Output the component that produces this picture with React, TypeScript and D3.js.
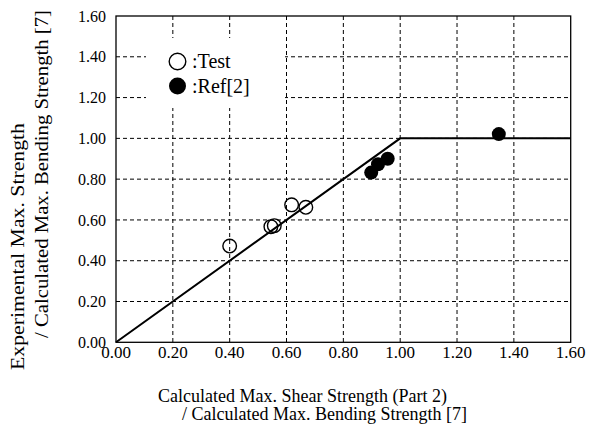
import React from "react";
import * as d3 from "d3";

const xTicks = [0, 0.2, 0.4, 0.6, 0.8, 1.0, 1.2, 1.4, 1.6];
const yTicks = [0, 0.2, 0.4, 0.6, 0.8, 1.0, 1.2, 1.4, 1.6];
const testX = [0.4, 0.545, 0.557, 0.618, 0.668];
const testY = [0.472, 0.567, 0.572, 0.674, 0.662];
const refX = [0.898, 0.922, 0.956, 1.347];
const refY = [0.832, 0.873, 0.9, 1.021];
const lineX = [0, 1.0, 1.6];
const lineY = [0, 1.0, 1.0];
const legendLabels = [":Test", ":Ref[2]"];

const W = 596;
const H = 430;
const L = 116, R = 570.7, T = 16, B = 342.3;
const FONT = "Liberation Serif, Times New Roman, serif";
const ts = { fontFamily: FONT };

export default function App() {
  const x = d3.scaleLinear().domain([0, 1.6]).range([L, R]);
  const y = d3.scaleLinear().domain([0, 1.6]).range([B, T]);
  const line = d3
    .line<number>()
    .x((_, i) => x(lineX[i]))
    .y((d) => y(d));
  const testPts = testX.map((v, i) => [v, testY[i]]);
  const refPts = refX.map((v, i) => [v, refY[i]]);

  return (
    <svg
      width={W}
      height={H}
      style={{ position: "absolute", left: 0, top: 0, background: "#fff", fontFamily: FONT }}
    >
      <rect x={0} y={0} width={W} height={H} fill="#fff" />
      {xTicks.slice(1, -1).map((t) => (
        <line
          key={"gx" + t}
          x1={x(t)}
          x2={x(t)}
          y1={T}
          y2={B}
          stroke="#000"
          strokeWidth={1}
          strokeDasharray="4,3"
        />
      ))}
      {yTicks.slice(1, -1).map((t) => (
        <line
          key={"gy" + t}
          x1={L}
          x2={R}
          y1={y(t)}
          y2={y(t)}
          stroke="#000"
          strokeWidth={1}
          strokeDasharray="4,3"
        />
      ))}
      <rect x={146} y={38} width={139} height={70} fill="#fff" />
      <rect x={L} y={T} width={R - L} height={B - T} fill="none" stroke="#000" strokeWidth={1.3} />
      <path d={line(lineY) || ""} fill="none" stroke="#000" strokeWidth={2} />
      {testPts.map((p, i) => (
        <circle key={"t" + i} cx={x(p[0])} cy={y(p[1])} r={6.8} fill="none" stroke="#000" strokeWidth={1.4} />
      ))}
      {refPts.map((p, i) => (
        <circle key={"r" + i} cx={x(p[0])} cy={y(p[1])} r={7} fill="#000" />
      ))}
      <circle cx={177.5} cy={61.5} r={8.3} fill="#fff" stroke="#000" strokeWidth={1.4} />
      <circle cx={177.5} cy={86} r={8.5} fill="#000" />
      <text x={192} y={68} fontSize={20} style={ts}>{legendLabels[0]}</text>
      <text x={192} y={93} fontSize={20} style={ts}>{legendLabels[1]}</text>
      {xTicks.map((t) => (
        <text key={"xt" + t} x={x(t)} y={358} fontSize={17} textAnchor="middle" style={ts}>
          {t.toFixed(2)}
        </text>
      ))}
      {yTicks.map((t) => (
        <text key={"yt" + t} x={106} y={y(t)} dy="0.35em" fontSize={16} textAnchor="end" style={ts}>
          {t.toFixed(2)}
        </text>
      ))}
      <text x={158} y={402} fontSize={18} style={ts}>Calculated Max. Shear Strength (Part 2)</text>
      <text x={182} y={420} fontSize={18} style={ts}>/ Calculated Max. Bending Strength [7]</text>
      <text
        transform="translate(24,370) rotate(-90)"
        fontSize={18}
        textLength={247}
        lengthAdjust="spacingAndGlyphs"
        style={ts}
      >
        Experimental Max. Strength
      </text>
      <text
        transform="translate(48,338) rotate(-90)"
        fontSize={18}
        textLength={328}
        lengthAdjust="spacingAndGlyphs"
        style={ts}
      >
        / Calculated Max. Bending Strength [7]
      </text>
    </svg>
  );
}
